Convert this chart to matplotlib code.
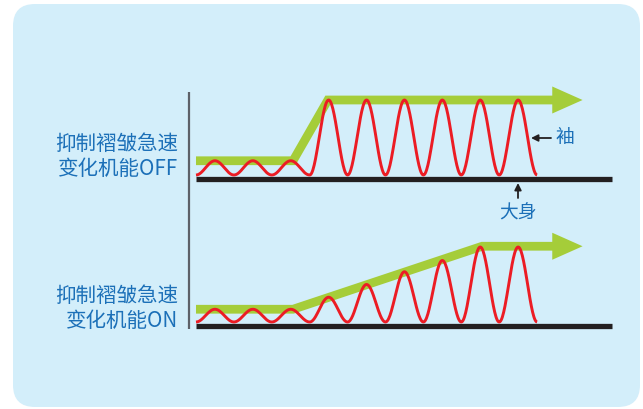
import numpy as np
import matplotlib
matplotlib.use("Agg")
import matplotlib.pyplot as plt
from matplotlib.patches import FancyBboxPatch, Polygon

plt.rcParams['font.family'] = ['Noto Sans CJK SC', 'DejaVu Sans']

# ---- data (x in wave-cycle units, y in units of the full amplitude) ----
amp_off = [0.19, 0.19, 0.19, 1.0, 1.0, 1.0, 1.0, 1.0, 1.0]
amp_on = [0.17, 0.17, 0.17, 0.33, 0.50, 0.67, 0.82, 1.0, 1.0]
env_off_x = [0.0, 2.56, 3.48, 9.42]
env_off_y = [0.19, 0.19, 1.0, 1.0]
env_on_x = [0.0, 2.56, 7.55, 9.42]
env_on_y = [0.17, 0.17, 1.01, 1.01]
arrow_tip_x = 10.2
baseline_end_x = 10.98
labels_off = ["抑制褶皱急速", "变化机能OFF"]
labels_on = ["抑制褶皱急速", "变化机能ON"]
note_sleeve = "袖"
note_body = "大身"

W, H = 643, 410
BG = '#d3eefa'
GREEN = '#a5cd39'
RED = '#ec1c24'
BLACK = '#231f20'
BLUE = '#1c70b8'

fig = plt.figure(figsize=(W / 100, H / 100), dpi=100)
fig.patch.set_facecolor('white')

# background axes in pixel coordinates
bg = fig.add_axes([0, 0, 1, 1])
bg.set_xlim(0, W)
bg.set_ylim(H, 0)
bg.axis('off')
bg.add_patch(FancyBboxPatch((13 + 22, 5 + 22), 627 - 44, 403 - 44,
                            boxstyle="round,pad=22", fc=BG, ec='none'))
bg.plot([189, 189], [93, 330], color='#5d6168', lw=1.6, solid_capstyle='butt')

PX0, PPC, PPA = 196.0, 37.9, 75.0  # pixel origin x, px per cycle, px per amplitude


def panel(trough_px, amps, ex, ey):
    top_px, bot_px = trough_px - 100, trough_px + 30
    ax = fig.add_axes([0, (H - bot_px) / H, 1, (bot_px - top_px) / H])
    ax.set_xlim(-PX0 / PPC, (W - PX0) / PPC)
    ax.set_ylim((trough_px - bot_px) / PPA, (trough_px - top_px) / PPA)
    ax.axis('off')
    ax.patch.set_alpha(0)
    # baseline
    base_y = -4 / PPA
    ax.plot([0, baseline_end_x], [base_y, base_y], color=BLACK, lw=3.8,
            solid_capstyle='butt', zorder=2)
    # green envelope arrow
    ax.plot(ex, ey, color=GREEN, lw=6.3, solid_capstyle='butt',
            solid_joinstyle='miter', zorder=3)
    hh = 13.5 / PPA
    ax.add_patch(Polygon([[ex[-1] - 0.02, ey[-1] + hh], [arrow_tip_x, ey[-1]],
                          [ex[-1] - 0.02, ey[-1] - hh]],
                         closed=True, fc=GREEN, ec='none', zorder=3))
    # red wave
    xs, ys = [], []
    for k, a in enumerate(amps):
        t = np.linspace(0, 1, 60)
        xs.append(k + t)
        ys.append(a * (1 - np.cos(2 * np.pi * t)) / 2)
    ax.plot(np.concatenate(xs), np.concatenate(ys), color=RED, lw=2.1,
            zorder=4, solid_capstyle='butt')
    return ax


ax1 = panel(176, amp_off, env_off_x, env_off_y)
ax2 = panel(323, amp_on, env_on_x, env_on_y)

# labels
for lines, ys in ((labels_off, (144, 169)), (labels_on, (296, 321))):
    for s, y in zip(lines, ys):
        bg.text(178, y, s, ha='right', va='center', fontsize=14.8, color=BLUE,
                fontweight='medium')

# annotations
bg.text(565, 138, note_sleeve, ha='center', va='center', fontsize=13.5,
        color=BLUE, fontweight='medium')
bg.annotate('', xy=(531, 139), xytext=(551, 139),
            arrowprops=dict(arrowstyle='-|>', color=BLACK, lw=1.3,
                            mutation_scale=10, shrinkA=0, shrinkB=0))
bg.text(518, 213, note_body, ha='center', va='center', fontsize=13.5,
        color=BLUE, fontweight='medium')
bg.annotate('', xy=(518, 184), xytext=(518, 199),
            arrowprops=dict(arrowstyle='-|>', color=BLACK, lw=1.3,
                            mutation_scale=10, shrinkA=0, shrinkB=0))

fig.savefig('out.png', dpi=100, facecolor='white')
